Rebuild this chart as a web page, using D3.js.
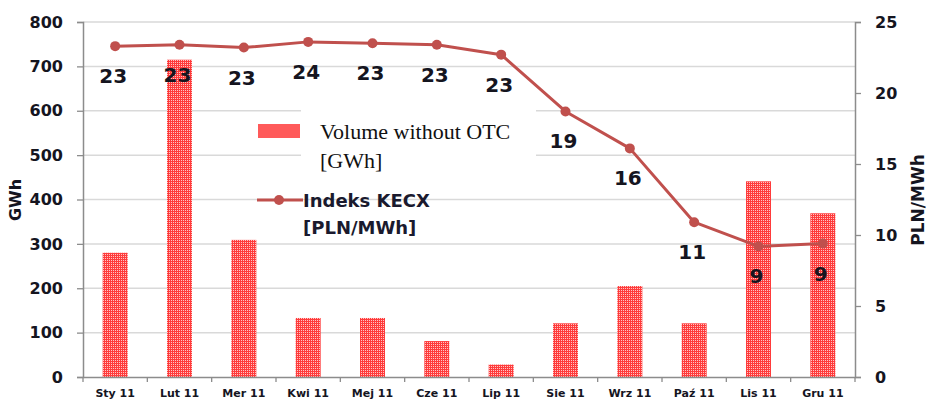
<!DOCTYPE html>
<html>
<head>
<meta charset="utf-8">
<script src="https://cdn.jsdelivr.net/npm/d3@7"></script>
<style>
  body { margin: 0; background: #fff; }
  svg text { font-family: "DejaVu Sans", sans-serif; }
</style>
</head>
<body>
<div id="chart"></div>
<script>
// miesiące 2011
var months = ["Sty 11", "Lut 11", "Mer 11", "Kwi 11", "Mej 11", "Cze 11", "Lip 11", "Sie 11", "Wrz 11", "Paź 11", "Lis 11", "Gru 11"];
var volume = [280, 715, 309, 133, 133, 81, 28, 121, 205, 121, 441, 369]; // GWh
var kecx = [23.3, 23.4, 23.2, 23.6, 23.5, 23.4, 22.7, 18.7, 16.1, 10.9, 9.2, 9.4]; // PLN/MWh
var kecxLabels = ["23", "23", "23", "24", "23", "23", "23", "19", "16", "11", "9", "9"];
var leftTicks = [0, 100, 200, 300, 400, 500, 600, 700, 800];
var rightTicks = [0, 5, 10, 15, 20, 25];

var width = 931, height = 407;
var padding = { top: 22, right: 76, bottom: 30, left: 83 };
var coordWidth = width - padding.left - padding.right;
var coordHeight = height - padding.top - padding.bottom;
var lineColor = "#c0504d";
var textColor = "#15151f";

var svg = d3.select("#chart").append("svg")
    .attr("width", width)
    .attr("height", height);

// mönster för staplarna
var pat = svg.append("defs").append("pattern")
    .attr("id", "dots")
    .attr("patternUnits", "userSpaceOnUse")
    .attr("width", 2).attr("height", 2);
pat.append("rect").attr("width", 2).attr("height", 2).attr("fill", "#ff3b3b");
pat.append("rect").attr("width", 1).attr("height", 1).attr("fill", "#ffc4c4");

var chart = svg.append("g")
    .attr("transform", "translate(" + padding.left + "," + padding.top + ")");

var xScale = d3.scaleBand().domain(months).range([0, coordWidth]);
var yLeft = d3.scaleLinear().domain([0, 800]).range([coordHeight, 0]);
var yRight = d3.scaleLinear().domain([0, 25]).range([coordHeight, 0]);

// gridlines
chart.append("g")
    .selectAll("line")
    .data(leftTicks.filter(function(d) { return d > 0; }))
    .enter().append("line")
    .attr("x1", 0).attr("x2", coordWidth)
    .attr("y1", function(d) { return yLeft(d); })
    .attr("y2", function(d) { return yLeft(d); })
    .attr("stroke", "#d9d9d9")
    .attr("stroke-width", 1.5);

// bars
var barWidth = 25;
chart.selectAll(".bar")
    .data(volume)
    .enter().append("rect")
    .attr("class", "bar")
    .attr("x", function(d, i) { return xScale(months[i]) + xScale.bandwidth() / 2 - barWidth / 2; })
    .attr("y", function(d) { return yLeft(d); })
    .attr("width", barWidth)
    .attr("height", function(d) { return coordHeight - yLeft(d); })
    .attr("fill", "url(#dots)");

// left axis
var leftAxis = chart.append("g")
    .call(d3.axisLeft(yLeft).tickValues(leftTicks).tickSize(6).tickPadding(14));
// right axis
var rightAxis = chart.append("g")
    .attr("transform", "translate(" + coordWidth + ",0)")
    .call(d3.axisRight(yRight).tickValues(rightTicks).tickSize(6).tickPadding(14));
// x axis
var xAxis = chart.append("g")
    .attr("transform", "translate(0," + coordHeight + ")")
    .call(d3.axisBottom(xScale).tickSize(0).tickPadding(12));

[leftAxis, rightAxis].forEach(function(ax) {
    ax.select(".domain").attr("stroke", "#8c8c8c").attr("stroke-width", 1.5);
    ax.selectAll(".tick line").attr("stroke", "#8c8c8c").attr("stroke-width", 1.3);
    ax.selectAll(".tick text")
        .attr("fill", textColor)
        .style("font-size", "16px")
        .style("font-weight", "bold");
});
xAxis.select(".domain").attr("stroke", "#8c8c8c").attr("stroke-width", 1.5);
xAxis.selectAll(".tick text")
    .attr("fill", textColor)
    .style("font-size", "11px")
    .style("font-weight", "bold");

// category boundary ticks
chart.append("g")
    .selectAll("line")
    .data(months)
    .enter().append("line")
    .attr("x1", function(d) { return xScale(d); })
    .attr("x2", function(d) { return xScale(d); })
    .attr("y1", coordHeight).attr("y2", coordHeight + 5)
    .attr("stroke", "#8c8c8c").attr("stroke-width", 1.3);
chart.append("line")
    .attr("x1", coordWidth).attr("x2", coordWidth)
    .attr("y1", coordHeight).attr("y2", coordHeight + 5)
    .attr("stroke", "#8c8c8c").attr("stroke-width", 1.3);

// legend background (covers gridlines)
var legend = svg.append("g");
legend.append("rect")
    .attr("x", 301).attr("y", 100)
    .attr("width", 235).attr("height", 80)
    .attr("fill", "#fff");

// line
var line = d3.line()
    .x(function(d, i) { return xScale(months[i]) + xScale.bandwidth() / 2; })
    .y(function(d) { return yRight(d); });

chart.append("path")
    .datum(kecx)
    .attr("fill", "none")
    .attr("stroke", lineColor)
    .attr("stroke-width", 3)
    .attr("stroke-linejoin", "round")
    .attr("d", line);

chart.selectAll(".point")
    .data(kecx)
    .enter().append("circle")
    .attr("class", "point")
    .attr("cx", function(d, i) { return xScale(months[i]) + xScale.bandwidth() / 2; })
    .attr("cy", function(d) { return yRight(d); })
    .attr("r", 5)
    .attr("fill", lineColor);

chart.selectAll(".val")
    .data(kecx)
    .enter().append("text")
    .attr("class", "val")
    .attr("x", function(d, i) { return xScale(months[i]) + xScale.bandwidth() / 2 - 2; })
    .attr("y", function(d) { return yRight(d) + 37; })
    .attr("text-anchor", "middle")
    .attr("fill", textColor)
    .style("font-size", "20px")
    .style("font-weight", "bold")
    .text(function(d, i) { return kecxLabels[i]; });

// legend entries
legend.append("rect")
    .attr("x", 258).attr("y", 124)
    .attr("width", 42).attr("height", 14)
    .attr("fill", "#ff5a5a");
legend.append("text")
    .attr("x", 320).attr("y", 139)
    .attr("fill", "#111")
    .style("font-family", "'Liberation Serif', serif")
    .style("font-size", "22px")
    .text("Volume without OTC");
legend.append("text")
    .attr("x", 320).attr("y", 168)
    .attr("fill", "#111")
    .style("font-family", "'Liberation Serif', serif")
    .style("font-size", "22px")
    .text("[GWh]");

legend.append("line")
    .attr("x1", 257).attr("x2", 303)
    .attr("y1", 200).attr("y2", 200)
    .attr("stroke", lineColor).attr("stroke-width", 3);
legend.append("circle")
    .attr("cx", 279).attr("cy", 200).attr("r", 5)
    .attr("fill", lineColor);
legend.append("text")
    .attr("x", 303).attr("y", 207)
    .attr("fill", "#1a1a2e")
    .style("font-size", "18px")
    .style("font-weight", "bold")
    .text("Indeks KECX");
legend.append("text")
    .attr("x", 303).attr("y", 234)
    .attr("fill", "#1a1a2e")
    .style("font-size", "18px")
    .style("font-weight", "bold")
    .text("[PLN/MWh]");

// axis titles
svg.append("text")
    .attr("transform", "translate(21,200) rotate(-90)")
    .attr("text-anchor", "middle")
    .attr("fill", textColor)
    .style("font-size", "16px")
    .style("font-weight", "bold")
    .text("GWh");
svg.append("text")
    .attr("transform", "translate(924,200) rotate(-90)")
    .attr("text-anchor", "middle")
    .attr("fill", textColor)
    .style("font-size", "17px")
    .style("font-weight", "bold")
    .text("PLN/MWh");
</script>
</body>
</html>
